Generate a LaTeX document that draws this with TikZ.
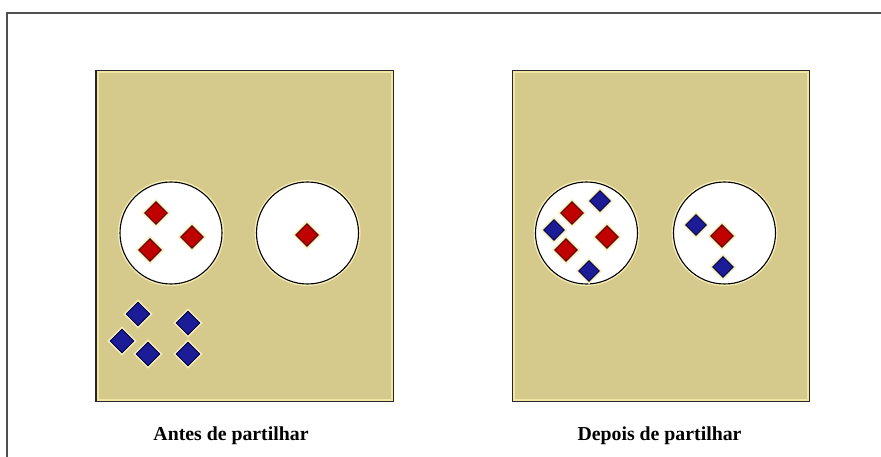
\documentclass[tikz,border=0pt]{standalone}
\usepackage{fontspec}
\setmainfont{Liberation Serif}
\usetikzlibrary{shapes.geometric}
\definecolor{panelfill}{HTML}{D5C98C}
\definecolor{panellight}{HTML}{F0E6A4}
\definecolor{haloc}{HTML}{F6EEB8}
\definecolor{redd}{HTML}{C00000}
\definecolor{bluee}{HTML}{1C1C96}
\definecolor{framec}{HTML}{505050}
\tikzset{
  panel/.style={rectangle, draw=black!85, line width=1.6, fill=panelfill,
    minimum width=297, minimum height=330, inner sep=0},
  bowl/.style={circle, draw=black, line width=1.1, fill=white, minimum size=102, inner sep=0,
    preaction={draw=haloc, line width=4}},
  reddia/.style={diamond, draw=black!70!red, line width=0.9, fill=redd, inner sep=0,
    minimum width=23, minimum height=23, preaction={draw=haloc, line width=4}},
  bluedia/.style={diamond, draw=black!70!blue, line width=0.9, fill=bluee, inner sep=0,
    minimum width=24, minimum height=24, preaction={draw=haloc, line width=4}},
  smallblue/.style={bluedia, minimum width=21, minimum height=21},
  caption/.style={font=\fontsize{19.8}{22}\selectfont\bfseries, anchor=base, inner sep=0}
}
\begin{document}
\begin{tikzpicture}[x=1pt,y=-1pt]
\useasboundingbox (0,0) rectangle (881,457);
% outer frame
\draw[framec, line width=2] (7,470) -- (7,13) -- (890,13);
% panels
\node[panel] (p1) at (244.5,236) {};
\node[panel] (p2) at (661,236) {};
\draw[panellight, line width=2] ([shift={(2.3,2.3)}]p1.north west) rectangle ([shift={(-2.3,-2.3)}]p1.south east);
\draw[panellight, line width=2] ([shift={(2.3,2.3)}]p2.north west) rectangle ([shift={(-2.3,-2.3)}]p2.south east);
% bowls
\node[bowl] (b1) at (171,233) {};
\node[bowl] (b2) at (307.5,233) {};
\node[bowl] (b3) at (586.5,233) {};
\node[bowl] (b4) at (724.5,233) {};
% before: red in bowls
\node[reddia] (r1) at (156,213) {};
\node[reddia] (r2) at (192,237) {};
\node[reddia] (r3) at (150,250) {};
\node[reddia] (r4) at (307,235) {};
% before: blue loose
\node[bluedia] (u1) at (138,314) {};
\node[bluedia] (u2) at (188,323) {};
\node[bluedia] (u3) at (122,341) {};
\node[bluedia] (u4) at (148,354) {};
\node[bluedia] (u5) at (188,354) {};
% after: bowl 3
\node[reddia] (s1) at (572,213) {};
\node[smallblue] (t1) at (600,201) {};
\node[smallblue] (t2) at (554,230) {};
\node[reddia] (s2) at (607,237) {};
\node[reddia] (s3) at (566,250) {};
\node[smallblue] (t3) at (589,271) {};
% after: bowl 4
\node[smallblue] (t4) at (696,225) {};
\node[reddia] (s4) at (722,236) {};
\node[smallblue] (t5) at (723,267) {};
% captions
\node[caption] (c1) at (231,440) {Antes de partilhar};
\node[caption] (c2) at (659.5,440) {Depois de partilhar};
\end{tikzpicture}
\end{document}
